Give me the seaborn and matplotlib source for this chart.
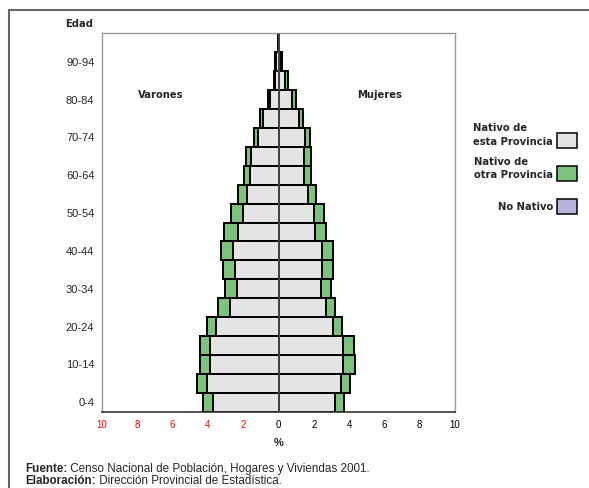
import numpy as np
import pandas as pd
import matplotlib
matplotlib.use("Agg")
import matplotlib.pyplot as plt
from matplotlib.lines import Line2D
from matplotlib.patches import Rectangle
import seaborn as sns

# Age groups, youngest first
edades = ["0-4", "5-9", "10-14", "15-19", "20-24", "25-29", "30-34", "35-39",
          "40-44", "45-49", "50-54", "55-59", "60-64", "65-69", "70-74",
          "75-79", "80-84", "85-89", "90-94", "95+"]

# Varones (%)
varones_esta = [3.71, 4.03, 3.88, 3.86, 3.56, 2.76, 2.36, 2.46, 2.56, 2.27,
                2.04, 1.76, 1.60, 1.57, 1.15, 0.87, 0.50, 0.20, 0.12, 0.02]
varones_otra = [0.55, 0.57, 0.57, 0.59, 0.51, 0.65, 0.69, 0.66, 0.68, 0.81,
                0.63, 0.55, 0.35, 0.26, 0.25, 0.19, 0.08, 0.05, 0.07, 0.01]
varones_no = [0.0] * 20

# Mujeres (%)
mujeres_esta = [3.18, 3.55, 3.68, 3.68, 3.11, 2.67, 2.41, 2.44, 2.44, 2.05,
                1.99, 1.69, 1.44, 1.44, 1.50, 1.18, 0.76, 0.36, 0.12, 0.02]
mujeres_otra = [0.55, 0.52, 0.68, 0.62, 0.47, 0.53, 0.54, 0.67, 0.67, 0.64,
                0.61, 0.41, 0.38, 0.40, 0.28, 0.18, 0.23, 0.19, 0.05, 0.01]
mujeres_no = [0.0] * 20

xticks = [-10, -8, -6, -4, -2, 0, 2, 4, 6, 8, 10]

COL_ESTA = "#e4e4e4"
COL_OTRA = "#7cc27c"
COL_NO = "#b4b4dc"
EDGE_LW = 1.4
W, H = 589, 488

sns.set_style("white")
plt.rcParams["font.family"] = ["Liberation Sans", "DejaVu Sans"]

df = pd.DataFrame({"edad": edades})
df["v_esta"] = -np.array(varones_esta)
df["v_otra"] = df["v_esta"] - np.array(varones_otra)
df["v_no"] = df["v_otra"] - np.array(varones_no)
df["m_esta"] = np.array(mujeres_esta)
df["m_otra"] = df["m_esta"] + np.array(mujeres_otra)
df["m_no"] = df["m_otra"] + np.array(mujeres_no)

order = edades[::-1]

fig = plt.figure(figsize=(W / 100, H / 100), dpi=100)
ax = fig.add_axes([0.1732, 0.1564, 0.5993, 0.775])

for col, color in [("no", COL_NO), ("otra", COL_OTRA), ("esta", COL_ESTA)]:
    for side in ["v", "m"]:
        sns.barplot(data=df, x=f"{side}_{col}", y="edad", order=order, orient="h",
                    color=color, saturation=1, edgecolor="black", linewidth=EDGE_LW,
                    width=1.0, errorbar=None, ax=ax)

ax.axvline(0, color="#555555", lw=1.1, zorder=5)
ax.set_xlim(-10, 10)
ax.set_ylim(len(order) - 0.5, -0.5)

ax.set_xticks(xticks)
ax.set_xticklabels([str(abs(t)) for t in xticks], fontsize=7)
for lbl, t in zip(ax.get_xticklabels(), xticks):
    lbl.set_color("red" if t < 0 else "black")
ax.tick_params(axis="x", direction="out", length=3, width=1, color="black", pad=3)
ax.set_yticks(range(len(order)))
ax.set_yticklabels([e if edades.index(e) % 2 == 0 else "" for e in order], fontsize=8)
ax.tick_params(axis="y", length=0, pad=5.5)
ax.set_xlabel("%", fontsize=8, fontweight="bold", labelpad=6)
ax.set_ylabel("")

for s in ["left", "top", "right"]:
    ax.spines[s].set_color("#999999")
    ax.spines[s].set_linewidth(1)
ax.spines["bottom"].set_color("#333333")
ax.spines["bottom"].set_linewidth(1.2)

ax.text(0.102, 0.837, "Varones", transform=ax.transAxes, fontsize=7.2,
        fontweight="bold", family="DejaVu Sans", va="center", ha="left")
ax.text(0.7215, 0.837, "Mujeres", transform=ax.transAxes, fontsize=7.2,
        fontweight="bold", family="DejaVu Sans", va="center", ha="left")

fig.text(93 / W, 1 - 24 / H, "Edad", fontsize=7.2, fontweight="bold",
         family="DejaVu Sans", ha="right", va="center")

# legend: text on the left, swatch on the right
legend_items = [("Nativo de\nesta Provincia", COL_ESTA, 135, 140),
                ("Nativo de\notra Provincia", COL_OTRA, 168.5, 173),
                ("No Nativo", COL_NO, 206.5, 206)]
for label, color, ytxt, ybox in legend_items:
    fig.text(553 / W, 1 - ytxt / H, label, fontsize=7.2, fontweight="bold",
             family="DejaVu Sans", ha="right", va="center", multialignment="left",
             linespacing=1.45)
    fig.add_artist(Rectangle((557 / W, 1 - (ybox + 7.5) / H), 20 / W, 15 / H,
                             transform=fig.transFigure, facecolor=color,
                             edgecolor="black", lw=1.1))

# outer frame (cropped at right and bottom)
x0, y1 = 8.7 / W, 1 - 10 / H
fig.add_artist(Line2D([x0, x0], [0, y1], color="#666666", lw=1.5))
fig.add_artist(Line2D([x0, 1], [y1, y1], color="#666666", lw=1.5))

# footer
renderer = fig.canvas.get_renderer()
for y, bold, rest in [(1 - 472 / H, "Fuente:", " Censo Nacional de Población, Hogares y Viviendas 2001."),
                      (1 - 484.5 / H, "Elaboración:", " Dirección Provincial de Estadística.")]:
    t = fig.text(25 / W, y, bold, fontsize=8.4, fontweight="bold", va="baseline")
    bb = t.get_window_extent(renderer=renderer)
    fig.text(bb.x1 / fig.bbox.width, y, rest, fontsize=8.4, va="baseline")

fig.savefig("out.png", dpi=100, facecolor="white")
